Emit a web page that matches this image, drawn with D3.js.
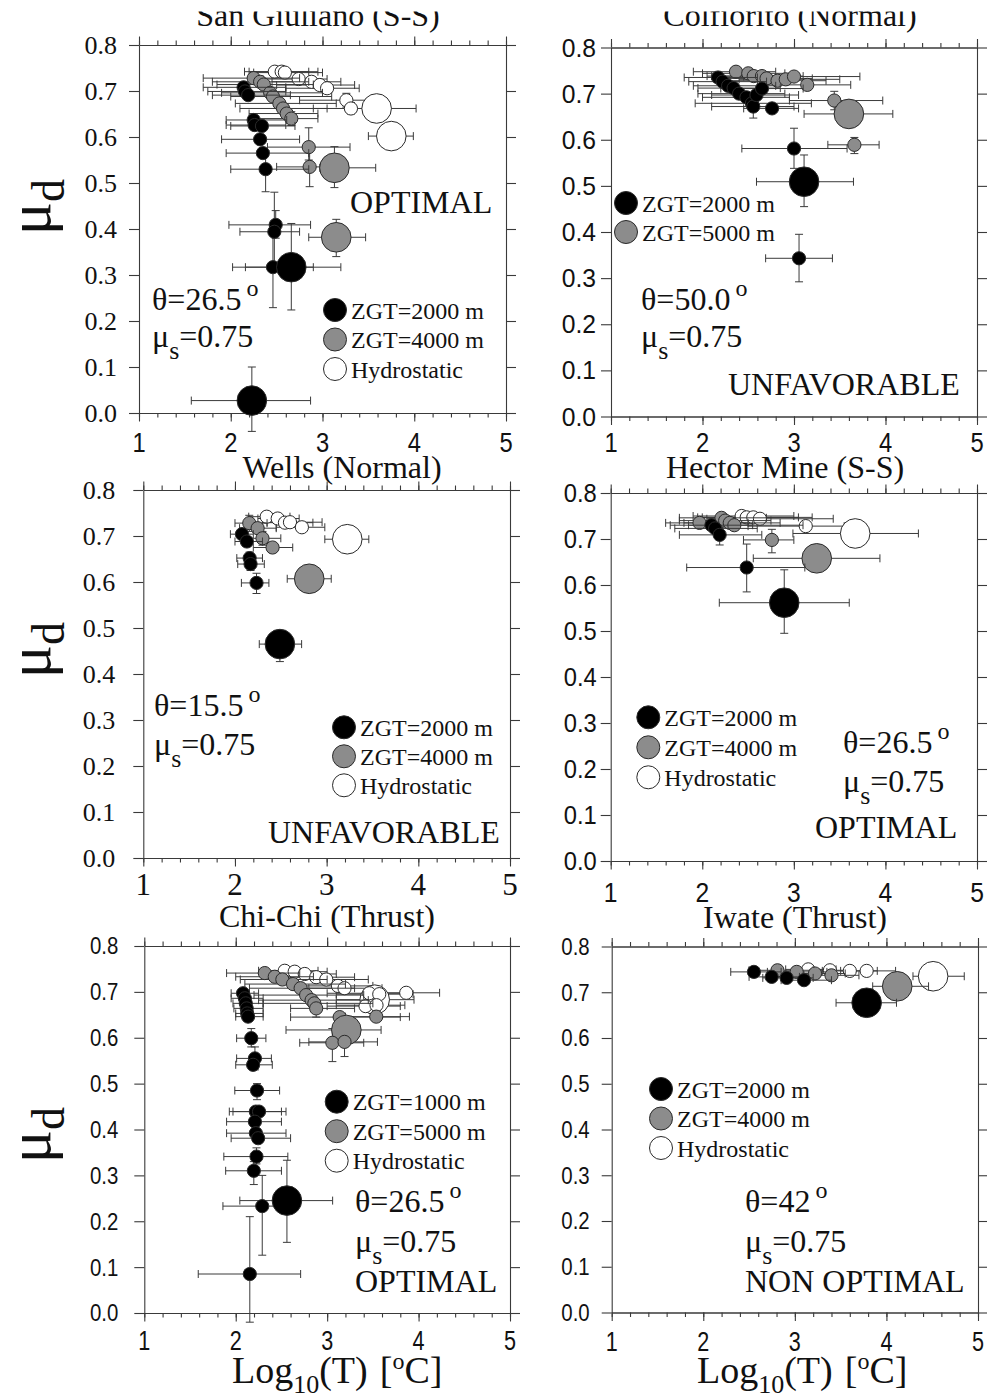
<!DOCTYPE html>
<html>
<head>
<meta charset="utf-8">
<script src="https://cdn.jsdelivr.net/npm/d3@7"></script>
<style>
html, body { margin: 0; padding: 0; background: #fff; }
svg { display: block; }
</style>
</head>
<body>
<svg id="fig" width="987" height="1395"></svg>
<script>
// ---- shared axis values ----
const xMajor = [1, 2, 3, 4, 5];
const xMinor = d3.range(1, 5.0001, 0.2);
const yTicks = [0, 0.1, 0.2, 0.3, 0.4, 0.5, 0.6, 0.7, 0.8];
const yTickLabels = ["0.0", "0.1", "0.2", "0.3", "0.4", "0.5", "0.6", "0.7", "0.8"];

// ---- point rows: [log10 T, mu_d, T low, T high, mu low, mu high, size class] ----
// San Giuliano (S-S)
const sgHydro = [
  [2.48, 0.742, 2.15, 2.85, 0.742, 0.742, 1],
  [2.555, 0.742, 2.20, 2.95, 0.742, 0.742, 1],
  [2.59, 0.740, 2.25, 3.00, 0.740, 0.740, 1],
  [2.74, 0.726, 2.35, 3.05, 0.726, 0.726, 1],
  [2.88, 0.720, 2.45, 3.20, 0.720, 0.720, 1],
  [2.97, 0.713, 2.50, 3.35, 0.713, 0.713, 1],
  [3.05, 0.706, 2.60, 3.40, 0.706, 0.706, 1],
  [3.26, 0.680, 2.75, 3.55, 0.665, 0.695, 1],
  [3.31, 0.662, 2.90, 3.60, 0.650, 0.675, 1],
  [3.59, 0.662, 3.44, 4.02, 0.662, 0.662, 3],
  [3.75, 0.602, 3.50, 3.99, 0.602, 0.602, 3]
];
const sgZ4000 = [
  [2.25, 0.728, 1.70, 2.75, 0.728, 0.728, 1],
  [2.32, 0.720, 1.80, 2.85, 0.720, 0.720, 1],
  [2.36, 0.714, 1.85, 2.90, 0.714, 0.714, 1],
  [2.43, 0.696, 1.90, 3.00, 0.696, 0.696, 1],
  [2.46, 0.688, 2.00, 3.10, 0.688, 0.688, 1],
  [2.53, 0.673, 2.05, 3.15, 0.673, 0.673, 1],
  [2.57, 0.662, 2.10, 3.05, 0.662, 0.662, 1],
  [2.61, 0.651, 2.20, 2.95, 0.651, 0.651, 1],
  [2.66, 0.640, 2.25, 2.95, 0.625, 0.655, 1],
  [2.85, 0.578, 2.40, 3.30, 0.550, 0.620, 1],
  [2.86, 0.535, 2.50, 3.25, 0.492, 0.570, 1],
  [3.13, 0.533, 2.97, 3.58, 0.490, 0.579, 3],
  [3.15, 0.382, 2.85, 3.47, 0.340, 0.421, 3]
];
const sgZ2000 = [
  [2.14, 0.708, 1.70, 2.60, 0.708, 0.708, 1],
  [2.155, 0.699, 1.75, 2.60, 0.699, 0.699, 1],
  [2.19, 0.691, 1.80, 2.65, 0.691, 0.691, 1],
  [2.25, 0.637, 1.95, 2.61, 0.637, 0.637, 1],
  [2.26, 0.626, 1.95, 2.60, 0.626, 0.626, 1],
  [2.34, 0.624, 2.00, 2.70, 0.624, 0.624, 1],
  [2.32, 0.595, 1.90, 2.75, 0.595, 0.595, 1],
  [2.35, 0.565, 1.95, 2.85, 0.565, 0.565, 1],
  [2.38, 0.530, 2.00, 2.85, 0.481, 0.570, 1],
  [2.49, 0.409, 1.98, 2.87, 0.380, 0.440, 1],
  [2.475, 0.394, 2.10, 2.75, 0.310, 0.480, 1],
  [2.46, 0.317, 2.02, 2.90, 0.229, 0.400, 1],
  [2.66, 0.317, 2.16, 3.20, 0.224, 0.412, 3],
  [2.23, 0.027, 1.57, 2.87, -0.040, 0.100, 3]
];

// Colfiorito (Normal)
const coZ5000 = [
  [2.366, 0.7475, 1.90, 2.80, 0.7475, 0.7475, 1],
  [2.50, 0.744, 2.00, 2.90, 0.744, 0.744, 1],
  [2.56, 0.738, 2.05, 3.00, 0.738, 0.738, 1],
  [2.65, 0.738, 2.10, 3.10, 0.738, 0.738, 1],
  [2.70, 0.733, 2.15, 3.20, 0.733, 0.733, 1],
  [2.82, 0.728, 2.30, 3.35, 0.728, 0.728, 1],
  [2.91, 0.731, 2.40, 3.50, 0.731, 0.731, 1],
  [3.00, 0.737, 2.45, 3.72, 0.737, 0.737, 1],
  [3.145, 0.719, 2.60, 3.62, 0.719, 0.719, 1],
  [3.44, 0.685, 2.95, 3.97, 0.665, 0.705, 1],
  [3.60, 0.656, 3.11, 4.08, 0.656, 0.656, 3],
  [3.66, 0.589, 3.37, 3.93, 0.570, 0.605, 1]
];
const coZ2000 = [
  [2.17, 0.735, 1.80, 2.60, 0.735, 0.735, 1],
  [2.22, 0.726, 1.85, 2.70, 0.726, 0.726, 1],
  [2.28, 0.717, 1.90, 2.80, 0.717, 0.717, 1],
  [2.34, 0.712, 1.95, 2.85, 0.712, 0.712, 1],
  [2.40, 0.700, 1.95, 2.90, 0.700, 0.700, 1],
  [2.48, 0.692, 2.00, 2.95, 0.692, 0.692, 1],
  [2.54, 0.679, 1.92, 3.19, 0.679, 0.679, 1],
  [2.555, 0.672, 2.10, 3.00, 0.647, 0.690, 1],
  [2.59, 0.697, 2.10, 3.05, 0.697, 0.697, 1],
  [2.65, 0.711, 2.20, 3.10, 0.711, 0.711, 1],
  [2.76, 0.668, 2.45, 3.05, 0.668, 0.668, 1],
  [3.00, 0.581, 2.43, 3.58, 0.538, 0.625, 1],
  [3.11, 0.509, 2.59, 3.65, 0.455, 0.567, 3],
  [3.055, 0.343, 2.69, 3.42, 0.292, 0.395, 1]
];

// Wells (Normal)
const weHydro = [
  [2.346, 0.742, 2.15, 2.60, 0.742, 0.742, 1],
  [2.466, 0.738, 2.25, 2.70, 0.738, 0.738, 1],
  [2.545, 0.729, 2.30, 2.85, 0.729, 0.729, 1],
  [2.60, 0.730, 2.35, 2.95, 0.730, 0.730, 1],
  [2.73, 0.719, 2.45, 2.98, 0.719, 0.719, 1],
  [3.225, 0.693, 2.98, 3.46, 0.693, 0.693, 3]
];
const weZ4000 = [
  [2.156, 0.728, 2.00, 2.35, 0.710, 0.745, 1],
  [2.247, 0.717, 2.05, 2.45, 0.717, 0.717, 1],
  [2.30, 0.695, 2.10, 2.50, 0.680, 0.710, 1],
  [2.41, 0.675, 2.20, 2.63, 0.675, 0.675, 1],
  [2.81, 0.607, 2.57, 3.05, 0.607, 0.607, 3]
];
const weZ2000 = [
  [2.076, 0.704, 1.95, 2.20, 0.704, 0.704, 1],
  [2.13, 0.688, 2.00, 2.30, 0.688, 0.688, 1],
  [2.16, 0.652, 2.02, 2.30, 0.635, 0.665, 1],
  [2.17, 0.639, 2.03, 2.32, 0.625, 0.655, 1],
  [2.235, 0.598, 2.07, 2.37, 0.575, 0.619, 1],
  [2.49, 0.465, 2.265, 2.727, 0.427, 0.483, 3]
];

// Hector Mine (S-S)
const hmHydro = [
  [2.43, 0.750, 1.90, 3.00, 0.750, 0.750, 1],
  [2.485, 0.747, 1.95, 3.05, 0.747, 0.747, 1],
  [2.557, 0.747, 2.00, 3.20, 0.747, 0.747, 1],
  [2.63, 0.744, 2.05, 3.43, 0.744, 0.744, 1],
  [3.13, 0.728, 2.50, 3.55, 0.728, 0.728, 1],
  [3.67, 0.712, 2.99, 4.36, 0.712, 0.712, 3]
];
const hmZ4000 = [
  [1.97, 0.735, 1.60, 2.50, 0.735, 0.735, 1],
  [2.21, 0.746, 1.75, 2.70, 0.746, 0.746, 1],
  [2.25, 0.740, 1.75, 2.75, 0.740, 0.740, 1],
  [2.30, 0.735, 1.80, 2.85, 0.735, 0.735, 1],
  [2.35, 0.730, 1.85, 3.10, 0.730, 0.730, 1],
  [2.76, 0.698, 2.45, 3.00, 0.670, 0.721, 1],
  [3.25, 0.658, 2.557, 3.94, 0.658, 0.658, 3]
];
const hmZ2000 = [
  [2.10, 0.730, 1.65, 2.55, 0.730, 0.730, 1],
  [2.14, 0.723, 1.70, 2.60, 0.723, 0.723, 1],
  [2.19, 0.709, 1.75, 2.65, 0.687, 0.725, 1],
  [2.485, 0.638, 1.83, 3.12, 0.585, 0.689, 1],
  [2.895, 0.5615, 2.186, 3.605, 0.495, 0.633, 3]
];

// Chi-Chi (Thrust)
const ccHydro = [
  [3.52, 0.683, 3.10, 3.95, 0.683, 0.683, 3],
  [2.536, 0.746, 2.25, 2.90, 0.746, 0.746, 1],
  [2.645, 0.744, 2.30, 3.00, 0.744, 0.744, 1],
  [2.755, 0.739, 2.40, 3.10, 0.739, 0.739, 1],
  [2.88, 0.732, 2.50, 3.30, 0.732, 0.732, 1],
  [2.99, 0.727, 2.60, 3.45, 0.727, 0.727, 1],
  [3.118, 0.713, 2.70, 3.50, 0.713, 0.713, 1],
  [3.19, 0.708, 2.80, 3.60, 0.708, 0.708, 1],
  [3.46, 0.697, 3.00, 3.90, 0.697, 0.697, 1],
  [3.57, 0.695, 3.10, 3.94, 0.695, 0.695, 1],
  [3.42, 0.669, 3.00, 3.80, 0.669, 0.669, 1],
  [3.54, 0.671, 3.10, 3.85, 0.671, 0.671, 1],
  [3.865, 0.698, 3.50, 4.23, 0.698, 0.698, 1]
];
const ccZ5000 = [
  [2.318, 0.741, 1.90, 2.70, 0.741, 0.741, 1],
  [2.427, 0.733, 2.00, 2.85, 0.733, 0.733, 1],
  [2.51, 0.727, 2.05, 3.00, 0.727, 0.727, 1],
  [2.627, 0.717, 2.10, 3.20, 0.717, 0.717, 1],
  [2.71, 0.708, 2.15, 3.30, 0.708, 0.708, 1],
  [2.77, 0.693, 2.20, 3.40, 0.693, 0.693, 1],
  [2.83, 0.682, 2.25, 3.45, 0.682, 0.682, 1],
  [2.86, 0.675, 2.30, 3.50, 0.675, 0.675, 1],
  [2.88, 0.664, 2.60, 3.30, 0.645, 0.680, 1],
  [3.137, 0.645, 2.60, 3.80, 0.645, 0.645, 1],
  [3.537, 0.646, 3.20, 3.90, 0.646, 0.646, 1],
  [3.21, 0.617, 2.55, 3.59, 0.617, 0.617, 3],
  [3.057, 0.589, 2.70, 3.40, 0.548, 0.620, 1],
  [3.19, 0.591, 2.80, 3.55, 0.559, 0.620, 1]
];
const ccZ1000 = [
  [2.08, 0.697, 1.95, 2.25, 0.697, 0.697, 1],
  [2.10, 0.686, 1.95, 2.30, 0.686, 0.686, 1],
  [2.11, 0.675, 1.97, 2.30, 0.675, 0.675, 1],
  [2.12, 0.664, 1.98, 2.30, 0.664, 0.664, 1],
  [2.125, 0.653, 2.00, 2.30, 0.653, 0.653, 1],
  [2.135, 0.646, 2.00, 2.30, 0.646, 0.646, 1],
  [2.17, 0.599, 2.01, 2.33, 0.580, 0.620, 1],
  [2.21, 0.555, 2.01, 2.39, 0.530, 0.580, 1],
  [2.19, 0.541, 2.00, 2.40, 0.541, 0.541, 1],
  [2.233, 0.485, 1.99, 2.48, 0.465, 0.500, 1],
  [2.22, 0.439, 1.93, 2.50, 0.439, 0.439, 1],
  [2.255, 0.439, 1.97, 2.55, 0.439, 0.439, 1],
  [2.21, 0.417, 1.90, 2.50, 0.417, 0.417, 1],
  [2.22, 0.392, 1.90, 2.55, 0.392, 0.392, 1],
  [2.245, 0.381, 1.95, 2.60, 0.381, 0.381, 1],
  [2.227, 0.341, 1.87, 2.57, 0.325, 0.360, 1],
  [2.198, 0.310, 1.89, 2.50, 0.280, 0.330, 1],
  [2.29, 0.233, 1.86, 2.50, 0.126, 0.300, 1],
  [2.56, 0.245, 2.045, 3.06, 0.154, 0.333, 3],
  [2.154, 0.085, 1.59, 2.71, -0.020, 0.210, 1]
];

// Iwate (Thrust)
const iwHydro = [
  [3.146, 0.750, 2.90, 3.45, 0.750, 0.750, 1],
  [3.383, 0.748, 3.10, 3.65, 0.748, 0.748, 1],
  [3.60, 0.7467, 3.30, 3.90, 0.7467, 0.7467, 1],
  [3.784, 0.7467, 3.50, 4.10, 0.7467, 0.7467, 1],
  [4.51, 0.735, 4.29, 4.85, 0.735, 0.735, 3]
];
const iwZ4000 = [
  [2.81, 0.748, 2.50, 3.20, 0.748, 0.748, 1],
  [3.02, 0.7445, 2.70, 3.35, 0.7445, 0.7445, 1],
  [3.22, 0.741, 2.90, 3.55, 0.741, 0.741, 1],
  [3.40, 0.737, 3.10, 3.70, 0.737, 0.737, 1],
  [4.118, 0.713, 3.85, 4.46, 0.713, 0.713, 3]
];
const iwZ2000 = [
  [2.553, 0.7445, 2.30, 2.85, 0.7445, 0.7445, 1],
  [2.747, 0.7336, 2.50, 3.05, 0.7336, 0.7336, 1],
  [2.91, 0.7314, 2.65, 3.20, 0.7314, 0.7314, 1],
  [3.10, 0.7264, 2.85, 3.40, 0.7264, 0.7264, 1],
  [3.784, 0.677, 3.45, 4.11, 0.677, 0.677, 3]
];

// ---- labels ----
const titles = ["San Giuliano (S-S)", "Colfiorito (Normal)", "Wells (Normal)", "Hector Mine (S-S)", "Chi-Chi (Thrust)", "Iwate (Thrust)"];
const dipAngles = ["26.5", "50.0", "15.5", "26.5", "26.5", "42"];
const regimes = ["OPTIMAL", "UNFAVORABLE", "UNFAVORABLE", "OPTIMAL", "OPTIMAL", "NON OPTIMAL"];
const legendSets = [
  ["ZGT=2000 m", "ZGT=4000 m", "Hydrostatic"],
  ["ZGT=2000 m", "ZGT=5000 m"],
  ["ZGT=2000 m", "ZGT=4000 m", "Hydrostatic"],
  ["ZGT=2000 m", "ZGT=4000 m", "Hydrostatic"],
  ["ZGT=1000 m", "ZGT=5000 m", "Hydrostatic"],
  ["ZGT=2000 m", "ZGT=4000 m", "Hydrostatic"]
];
const staticFriction = "0.75";

// ---- styles ----
const SERIF = "'Liberation Serif','Times New Roman',serif";
const SANS = "'Liberation Sans',Arial,sans-serif";
const FILL_HYDRO = "#ffffff", FILL_DEEP = "#8c8c8c", FILL_SHALLOW = "#000000";
const INK = "#3a3a3a";
const radius = d3.scaleOrdinal().domain([1, 2, 3]).range([6.6, 9, 14.8]);

// ---- panel layout ----
const panels = [
  { left: 139, right: 506, top: 45, bottom: 413, titleX: 318, titleY: 26, clip: 11.5,
    yLab: { font: SERIF, size: 26, sx: 1, gap: 22 }, xLab: { font: SANS, size: 27, sx: 0.88, gap: 39 },
    series: [[sgHydro, FILL_HYDRO], [sgZ4000, FILL_DEEP], [sgZ2000, FILL_SHALLOW]],
    legend: { x: 335, y: 310, dy: 29.5, fills: [FILL_SHALLOW, FILL_DEEP, FILL_HYDRO] },
    theta: [152, 310], mu: [152, 347], regime: [350, 213], axisLabel: 207 },
  { left: 611, right: 977, top: 47.5, bottom: 416.5, titleX: 790, titleY: 26, clip: 11.5,
    yLab: { font: SANS, size: 26, sx: 0.95, gap: 15 }, xLab: { font: SANS, size: 27, sx: 0.88, gap: 35 },
    series: [[coZ5000, FILL_DEEP], [coZ2000, FILL_SHALLOW]],
    legend: { x: 626, y: 203, dy: 29, fills: [FILL_SHALLOW, FILL_DEEP] },
    theta: [641, 310], mu: [641, 347], regime: [728, 395] },
  { left: 143.3, right: 510, top: 490, bottom: 858, titleX: 342, titleY: 478,
    yLab: { font: SERIF, size: 26, sx: 1, gap: 28 }, xLab: { font: SERIF, size: 31, sx: 1, gap: 37 },
    series: [[weHydro, FILL_HYDRO], [weZ4000, FILL_DEEP], [weZ2000, FILL_SHALLOW]],
    legend: { x: 344, y: 727.3, dy: 29, fills: [FILL_SHALLOW, FILL_DEEP, FILL_HYDRO] },
    theta: [154, 716], mu: [154, 755], regime: [268, 843], axisLabel: 650 },
  { left: 610.7, right: 977, top: 493, bottom: 861, titleX: 785, titleY: 478,
    yLab: { font: SANS, size: 25, sx: 0.95, gap: 14 }, xLab: { font: SANS, size: 28, sx: 0.88, gap: 41 },
    series: [[hmHydro, FILL_HYDRO], [hmZ4000, FILL_DEEP], [hmZ2000, FILL_SHALLOW]],
    legend: { x: 648.3, y: 717.3, dy: 30, fills: [FILL_SHALLOW, FILL_DEEP, FILL_HYDRO] },
    theta: [843, 753], mu: [843, 792], regime: [815, 838] },
  { left: 144.3, right: 510, top: 946, bottom: 1313, titleX: 327, titleY: 927,
    yLab: { font: SANS, size: 24, sx: 0.85, gap: 26 }, xLab: { font: SANS, size: 27, sx: 0.8, gap: 37 },
    series: [[ccHydro, FILL_HYDRO], [ccZ5000, FILL_DEEP], [ccZ1000, FILL_SHALLOW]],
    legend: { x: 336.7, y: 1101.7, dy: 29.5, fills: [FILL_SHALLOW, FILL_DEEP, FILL_HYDRO] },
    theta: [355, 1212], mu: [355, 1252], regime: [355, 1292], axisLabel: 1135, xTitle: 232 },
  { left: 611.7, right: 978, top: 946.5, bottom: 1312.5, titleX: 795, titleY: 928,
    yLab: { font: SANS, size: 24, sx: 0.85, gap: 22 }, xLab: { font: SANS, size: 27, sx: 0.8, gap: 38 },
    series: [[iwHydro, FILL_HYDRO], [iwZ4000, FILL_DEEP], [iwZ2000, FILL_SHALLOW]],
    legend: { x: 661, y: 1089, dy: 29.5, fills: [FILL_SHALLOW, FILL_DEEP, FILL_HYDRO] },
    theta: [745, 1212], mu: [745, 1252], regime: [745, 1292], xTitle: 697 }
];

const svg = d3.select("#fig");
svg.append("rect").attr("width", 987).attr("height", 1395).attr("fill", "#fff");

const defs = svg.append("defs");
defs.append("clipPath").attr("id", "topCrop")
  .append("rect").attr("x", 0).attr("y", 11.5).attr("width", 987).attr("height", 60);

panels.forEach((p, i) => {
  const x = d3.scaleLinear().domain([1, 5]).range([p.left, p.right]);
  const y = d3.scaleLinear().domain([0, 0.8]).range([p.bottom, p.top]);
  const g = svg.append("g");

  // title
  const t = g.append("text")
    .attr("x", p.titleX).attr("y", p.titleY)
    .attr("text-anchor", "middle")
    .attr("font-family", SERIF).attr("font-size", 32).attr("fill", "#111")
    .text(titles[i]);
  if (p.clip) t.attr("clip-path", "url(#topCrop)");

  // axes: frame lines with outward ticks
  const axStyle = sel => {
    sel.selectAll("path,line").attr("stroke", INK).attr("stroke-width", 1.1);
    sel.selectAll("text").remove();
  };
  const bottomMinor = d3.axisBottom(x).tickValues(xMinor).tickSize(4.5).tickSizeOuter(0).tickFormat("");
  const bottomMajor = d3.axisBottom(x).tickValues(xMajor).tickSize(8.5).tickSizeOuter(0).tickFormat("");
  const topMinor = d3.axisTop(x).tickValues(xMinor).tickSize(4.5).tickSizeOuter(0).tickFormat("");
  const topMajor = d3.axisTop(x).tickValues(xMajor).tickSize(8.5).tickSizeOuter(0).tickFormat("");
  g.append("g").attr("transform", `translate(0,${p.bottom})`).call(bottomMinor).call(axStyle);
  g.append("g").attr("transform", `translate(0,${p.bottom})`).call(bottomMajor).call(axStyle);
  g.append("g").attr("transform", `translate(0,${p.top})`).call(topMinor).call(axStyle);
  g.append("g").attr("transform", `translate(0,${p.top})`).call(topMajor).call(axStyle);
  g.append("g").attr("transform", `translate(${p.left},0)`)
    .call(d3.axisLeft(y).tickValues(yTicks).tickSize(10).tickSizeOuter(0).tickFormat("")).call(axStyle);
  g.append("g").attr("transform", `translate(${p.right},0)`)
    .call(d3.axisRight(y).tickValues(yTicks).tickSize(10).tickSizeOuter(0).tickFormat("")).call(axStyle);

  // tick labels
  g.append("g").selectAll("text").data(yTicks).join("text")
    .attr("transform", d => `translate(${p.left - p.yLab.gap},${y(d)}) scale(${p.yLab.sx},1)`)
    .attr("dy", "0.35em").attr("text-anchor", "end")
    .attr("font-family", p.yLab.font).attr("font-size", p.yLab.size).attr("fill", "#111")
    .text((d, k) => yTickLabels[k]);
  g.append("g").selectAll("text").data(xMajor).join("text")
    .attr("transform", d => `translate(${x(d)},${p.bottom + p.xLab.gap}) scale(${p.xLab.sx},1)`)
    .attr("text-anchor", "middle")
    .attr("font-family", p.xLab.font).attr("font-size", p.xLab.size).attr("fill", "#111")
    .text(d => d);

  // error bars and markers, series by series
  const cap = 4;
  p.series.forEach(([rows, fill]) => {
    const sg = g.append("g");
    const bars = sg.append("g").attr("stroke", INK).attr("stroke-width", 1).attr("fill", "none");
    rows.forEach(r => {
      const [vx, vy, x0, x1, y0, y1] = r;
      if (x1 > x0) {
        bars.append("line").attr("x1", x(x0)).attr("x2", x(x1)).attr("y1", y(vy)).attr("y2", y(vy));
        bars.append("line").attr("x1", x(x0)).attr("x2", x(x0)).attr("y1", y(vy) - cap).attr("y2", y(vy) + cap);
        bars.append("line").attr("x1", x(x1)).attr("x2", x(x1)).attr("y1", y(vy) - cap).attr("y2", y(vy) + cap);
      }
      if (y1 > y0) {
        bars.append("line").attr("x1", x(vx)).attr("x2", x(vx)).attr("y1", y(y0)).attr("y2", y(y1));
        bars.append("line").attr("x1", x(vx) - cap).attr("x2", x(vx) + cap).attr("y1", y(y0)).attr("y2", y(y0));
        bars.append("line").attr("x1", x(vx) - cap).attr("x2", x(vx) + cap).attr("y1", y(y1)).attr("y2", y(y1));
      }
    });
    sg.append("g").selectAll("circle").data(rows).join("circle")
      .attr("cx", d => x(d[0])).attr("cy", d => y(d[1])).attr("r", d => radius(d[6]))
      .attr("fill", fill).attr("stroke", "#2a2a2a").attr("stroke-width", 1);
  });

  // legend
  const lg = g.append("g");
  legendSets[i].forEach((lab, k) => {
    const cy = p.legend.y + k * p.legend.dy;
    lg.append("circle").attr("cx", p.legend.x).attr("cy", cy).attr("r", 11.5)
      .attr("fill", p.legend.fills[k]).attr("stroke", "#2a2a2a").attr("stroke-width", 1);
    lg.append("text").attr("x", p.legend.x + 16).attr("y", cy + 8.5)
      .attr("font-family", SERIF).attr("font-size", 24).attr("fill", "#111").text(lab);
  });

  // annotations
  const th = g.append("text").attr("x", p.theta[0]).attr("y", p.theta[1])
    .attr("font-family", SERIF).attr("font-size", 32).attr("fill", "#111");
  th.append("tspan").text("\u03B8=" + dipAngles[i]);
  th.append("tspan").attr("dx", 5).attr("dy", -14).attr("font-size", 24).text("o");

  const mu = g.append("text").attr("x", p.mu[0]).attr("y", p.mu[1])
    .attr("font-family", SERIF).attr("font-size", 32).attr("fill", "#111");
  mu.append("tspan").text("\u03BC");
  mu.append("tspan").attr("dy", 12).attr("font-size", 26).text("s");
  mu.append("tspan").attr("dy", -12).text("=" + staticFriction);

  g.append("text").attr("x", p.regime[0]).attr("y", p.regime[1])
    .attr("font-family", SERIF).attr("font-size", 32).attr("fill", "#111")
    .text(regimes[i]);

  // vertical axis title on the left column
  if (p.axisLabel !== undefined) {
    const yl = g.append("text")
      .attr("transform", `translate(50,${p.axisLabel}) rotate(-90)`)
      .attr("text-anchor", "middle")
      .attr("font-family", SERIF).attr("font-size", 62).attr("fill", "#111");
    yl.append("tspan").text("\u03BC");
    yl.append("tspan").attr("dy", 14).attr("font-size", 46).text("d");
  }

  // horizontal axis title on the bottom row
  if (p.xTitle !== undefined) {
    const xl = g.append("text").attr("x", p.xTitle).attr("y", 1383)
      .attr("font-family", SERIF).attr("font-size", 38).attr("fill", "#111");
    xl.append("tspan").text("Log");
    xl.append("tspan").attr("dy", 10).attr("font-size", 26).text("10");
    xl.append("tspan").attr("dy", -10).text("(T)");
    xl.append("tspan").attr("dx", 12).text("[");
    xl.append("tspan").attr("dy", -14).attr("font-size", 24).text("o");
    xl.append("tspan").attr("dy", 14).text("C]");
  }
});
</script>
</body>
</html>
